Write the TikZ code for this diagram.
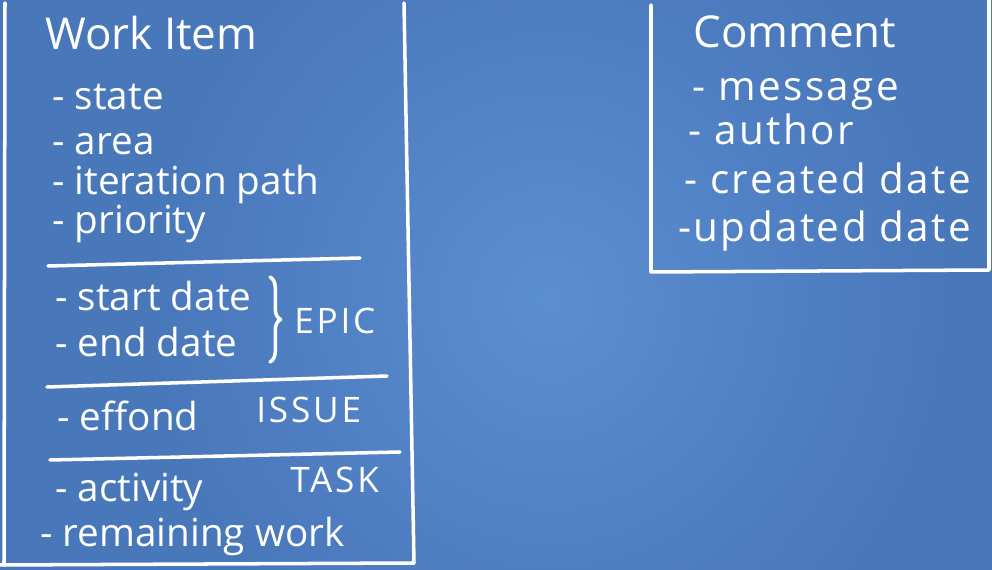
\documentclass[tikz,border=0pt]{standalone}
\usepackage{fontspec}
\setmainfont{Open Sans}
\usepackage{tikz}
\usetikzlibrary{decorations.pathreplacing, positioning}
\definecolor{BoardEdge}{HTML}{4877BA}
\definecolor{BoardMid}{HTML}{5C8ED2}
\tikzstyle{title} = [anchor=base west, inner sep=0pt, text=white, font=\fontsize{25}{30}\selectfont]
\tikzstyle{field} = [anchor=base west, inner sep=0pt, text=white, font=\fontsize{22}{26}\selectfont]
\tikzstyle{cfield} = [field, font=\fontsize{23}{27}\selectfont\addfontfeatures{LetterSpace=6}]
\tikzstyle{kind} = [anchor=base west, inner sep=0pt, text=white, font=\fontsize{20}{24}\selectfont\addfontfeatures{LetterSpace=8}]
\tikzstyle{chalk} = [draw=white, line width=2pt, line cap=round, line join=round]

\begin{document}
\begin{tikzpicture}[x=0.02cm, y=-0.02cm]
	% board
	\useasboundingbox (0,0) rectangle (992,570);
	\fill[BoardEdge] (0,0) rectangle (992,570);
	\shade[inner color=BoardMid, outer color=BoardEdge] (150,-120) rectangle (950,720);
	% work item box
	\coordinate (WiTopLeft) at (5,3);
	\coordinate (WiBotLeft) at (4,565);
	\coordinate (WiTopRight) at (404,3);
	\coordinate (WiBotRight) at (414,563);
	\draw[chalk] (WiTopLeft) -- (WiBotLeft);
	\draw[chalk] (WiTopRight) -- (WiBotRight);
	\draw[chalk] (0,565) -- (WiBotRight);
	\coordinate (DivOneL) at (48,266);
	\coordinate (DivOneR) at (360,258);
	\coordinate (DivTwoL) at (47,387);
	\coordinate (DivTwoR) at (387,376);
	\coordinate (DivThreeL) at (50,460);
	\coordinate (DivThreeR) at (400,452);
	\draw[chalk] (DivOneL) -- (DivOneR);
	\draw[chalk] (DivTwoL) -- (DivTwoR);
	\draw[chalk] (DivThreeL) -- (DivThreeR);
	\node (WorkItem) [title] at (45,50) {Work Item};
	\node (State) [field] at (52,110) {- state};
	\node (Area) [field] at (52,155) {- area};
	\node (IterationPath) [field] at (52,195) {- iteration path};
	\node (Priority) [field] at (52,234) {- priority};
	\node (StartDate) [field] at (55,311) {- start date};
	\node (EndDate) [field] at (55,357) {- end date};
	\coordinate (BraceTop) at (270,277);
	\coordinate (BraceBot) at (270,362);
	\draw[chalk, decorate, decoration={brace, amplitude=6pt}] (BraceTop) -- (BraceBot);
	\node (Epic) [kind] at (294,334) {EPIC};
	\node (Effond) [field] at (57,431) {- effond};
	\node (Issue) [kind] at (256,423) {ISSUE};
	\node (Activity) [field] at (55,502) {- activity};
	\node (Task) [kind] at (290,493) {TASK};
	\node (RemainingWork) [field] at (40,547) {- remaining work};
	% comment box
	\coordinate (CmTopLeft) at (651,5);
	\coordinate (CmBotLeft) at (651,272);
	\coordinate (CmTopRight) at (989,0);
	\coordinate (CmBotRight) at (989,270);
	\draw[chalk] (CmTopLeft) -- (CmBotLeft) -- (CmBotRight) -- (CmTopRight);
	\node (Comment) [title] at (693,48) {Comment};
	\node (Message) [cfield] at (692,101) {- message};
	\node (Author) [cfield] at (688,145) {- author};
	\node (CreatedDate) [cfield] at (684,194) {- created date};
	\node (UpdatedDate) [cfield] at (678,242) {-updated date};
\end{tikzpicture}
\end{document}
